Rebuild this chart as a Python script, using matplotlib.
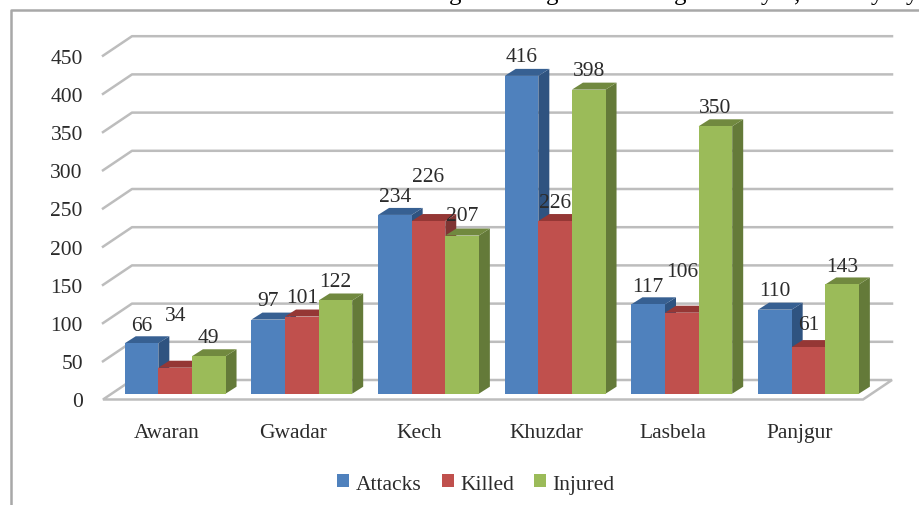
"""3D-style clustered bars of attacks, killed and injured per district."""

import matplotlib

matplotlib.use("Agg")

import matplotlib.pyplot as plt
from matplotlib.patches import Patch, Polygon

districts = ["Awaran", "Gwadar", "Kech", "Khuzdar", "Lasbela", "Panjgur"]
attacks = [66, 97, 234, 416, 117, 110]
killed = [34, 101, 226, 226, 106, 61]
injured = [49, 122, 207, 398, 350, 143]
y_ticks = [0, 50, 100, 150, 200, 250, 300, 350, 400, 450]

# front, side, top colours per series
series = [
    ("Attacks", attacks, ("#4F81BD", "#2F5380", "#376092")),
    ("Killed", killed, ("#C0504D", "#7F3533", "#953735")),
    ("Injured", injured, ("#9BBB59", "#647A39", "#71893F")),
]

# label lift above the bar front, in pixels (the source places some labels high)
label_lift = {
    "Attacks": [18, 19, 18, 19, 18, 19],
    "Killed": [52, 19, 45, 19, 41, 23],
    "Injured": [19, 19, 20, 19, 19, 18],
}

# the heading is cropped by the picture edge: only these descenders are left of it
cut_glyphs = ["g", "g", "g", "y", ",", "y", "y"]
cut_glyph_x = [455, 552, 680, 767, 797, 877, 912]

W, H = 920, 506
PX_X = 760 / 6  # pixels per category
PX_Y = 343.8 / 450  # pixels per value

FLOOR_DX, FLOOR_DY = 29 / PX_X, 19.5 / PX_Y
SHIFT_DX, SHIFT_DY = 8.8 / PX_X, 5.8 / PX_Y
DEPTH_DX, DEPTH_DY = 11 / PX_X, 7 / PX_Y
BAR_W = 33.6 / PX_X
GRID = "#BDBDBD"
TEXT = "#2B2B2B"

plt.rcParams["font.family"] = ["Liberation Serif", "DejaVu Serif"]

fig = plt.figure(figsize=(W / 100, H / 100), dpi=100)
ax = fig.add_axes([103 / W, 1 - 400.5 / H, 760 / W, 343.8 / H])
ax.set_xlim(-0.5, 5.5)
ax.set_ylim(0, 450)
for spine in ax.spines.values():
    spine.set_visible(False)

# outer chart frame, open on the right
fig.add_artist(plt.Line2D([1, 11 / W, 11 / W], [1 - 11 / H, 1 - 11 / H, 0],
                          color="#A8A8A8", lw=1.8))
for glyph, px in zip(cut_glyphs, cut_glyph_x):
    fig.text(px / W, 1.0, glyph, ha="center", va="baseline", fontsize=18, color="black")

# floor and walls
x0, x1 = -0.5, 5.5
ax.add_patch(Polygon([(x0, 0), (x1, 0), (x1 + FLOOR_DX, FLOOR_DY), (x0 + FLOOR_DX, FLOOR_DY)],
                     closed=True, fc="white", ec=GRID, lw=1.8, clip_on=False, zorder=1))
for val in y_ticks[1:]:
    ax.plot([x0, x0 + FLOOR_DX, x1 + FLOOR_DX], [val, val + FLOOR_DY, val + FLOOR_DY],
            color=GRID, lw=1.8, clip_on=False, zorder=1)

# bars, painted left to right so later ones cover earlier sides
z = 2
for i in range(len(districts)):
    for j, (name, values, (front, side, top)) in enumerate(series):
        val = values[i]
        left = i + SHIFT_DX + (j - 1.5) * BAR_W
        right = left + BAR_W
        base = SHIFT_DY
        roof = base + val
        ax.add_patch(Polygon([(right, base), (right + DEPTH_DX, base + DEPTH_DY),
                              (right + DEPTH_DX, roof + DEPTH_DY), (right, roof)],
                             closed=True, fc=side, ec="none", clip_on=False, zorder=z))
        ax.add_patch(Polygon([(left, roof), (right, roof), (right + DEPTH_DX, roof + DEPTH_DY),
                              (left + DEPTH_DX, roof + DEPTH_DY)],
                             closed=True, fc=top, ec="none", clip_on=False, zorder=z))
        ax.add_patch(Polygon([(left, base), (right, base), (right, roof), (left, roof)],
                             closed=True, fc=front, ec="none", clip_on=False, zorder=z))
        z += 1

for i in range(len(districts)):
    for j, (name, values, _) in enumerate(series):
        ax.annotate(str(values[i]), (i + SHIFT_DX + (j - 1) * BAR_W, SHIFT_DY + values[i]),
                    xytext=(0, label_lift[name][i] * 0.72), textcoords="offset points",
                    ha="center", va="center", fontsize=15.5, color=TEXT, zorder=50)

ax.set_xticks(range(len(districts)), districts)
ax.set_yticks(y_ticks)
ax.tick_params(axis="x", length=0, pad=17, labelsize=15.5, labelcolor=TEXT)
ax.tick_params(axis="y", length=0, pad=14.5, labelsize=15.5, labelcolor=TEXT)

handles = [Patch(fc=colors[0], ec="none", label=name) for name, _, colors in series]
fig.legend(handles=handles, loc="center", bbox_to_anchor=(476 / W, 1 - 485 / H), ncol=3,
           frameon=False, fontsize=15.5, labelcolor=TEXT, handlelength=0.55, handleheight=0.55,
           handletextpad=0.3, columnspacing=0.95, borderpad=0)

fig.savefig("out.png", dpi=100, facecolor="white")
